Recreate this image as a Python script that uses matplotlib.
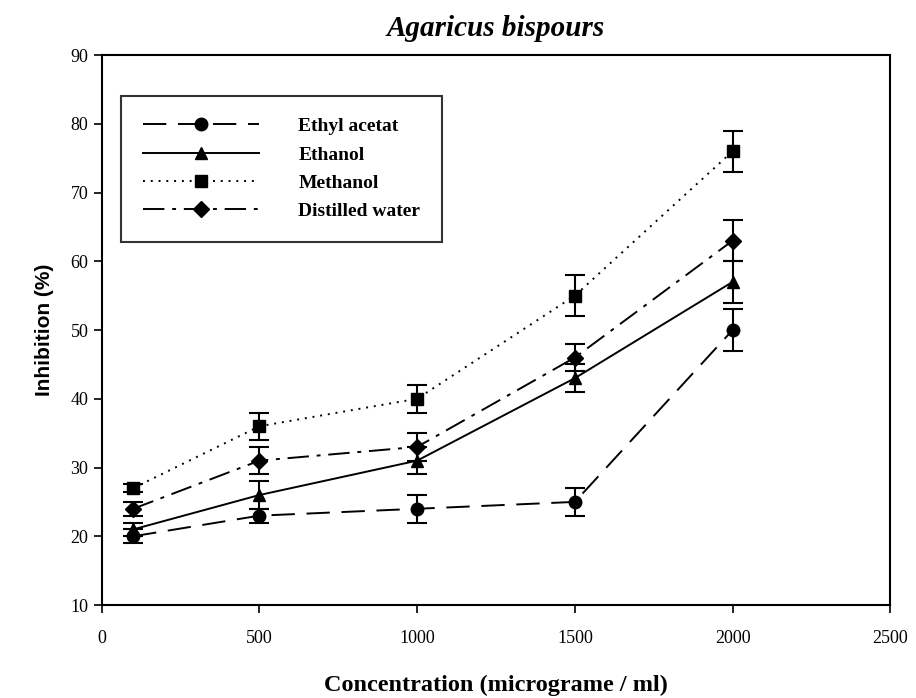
import matplotlib
matplotlib.use("Agg")
import matplotlib.pyplot as plt

conc = [100, 500, 1000, 1500, 2000]
ethyl_acetat = [20, 23, 24, 25, 50]
ethyl_acetat_err = [1, 1, 2, 2, 3]
ethanol = [21, 26, 31, 43, 57]
ethanol_err = [1, 2, 2, 2, 3]
methanol = [27, 36, 40, 55, 76]
methanol_err = [0.6, 2, 2, 3, 3]
water = [24, 31, 33, 46, 63]
water_err = [1, 2, 2, 2, 3]

xticks = [0, 500, 1000, 1500, 2000, 2500]
yticks = [10, 20, 30, 40, 50, 60, 70, 80, 90]

serif = ["Liberation Serif", "DejaVu Serif"]

fig = plt.figure(figsize=(9.16, 6.98), dpi=100)
ax = fig.add_axes([0.111, 0.1332, 0.861, 0.788])

series = [
    ("Ethyl acetat", ethyl_acetat, ethyl_acetat_err, "o", (0, (12, 6))),
    ("Ethanol", ethanol, ethanol_err, "^", "-"),
    ("Methanol", methanol, methanol_err, "s", (0, (1, 3))),
    ("Distilled water", water, water_err, "D", (0, (11, 4, 2, 4))),
]
for name, y, e, m, ls in series:
    ms = 9 if m != "D" else 8
    ax.errorbar(conc, y, yerr=e, fmt="none", ecolor="black", elinewidth=1.5,
                capsize=7, capthick=1.5, zorder=2)
    ax.plot(conc, y, color="black", linestyle=ls, linewidth=1.4, marker=m,
            markersize=ms, markerfacecolor="black", markeredgecolor="black",
            label=name, zorder=3)

ax.set_xlim(0, 2500)
ax.set_ylim(10, 90)
ax.set_xticks(xticks)
ax.set_yticks(yticks)
ax.tick_params(direction="out", length=6, width=1.2, labelsize=13)
for lab in ax.get_xticklabels() + ax.get_yticklabels():
    lab.set_fontfamily(serif)
ax.tick_params(axis="x", pad=12)
for s in ax.spines.values():
    s.set_linewidth(1.5)

ax.set_xlabel("Concentration (micrograme / ml)", fontsize=17.5, fontweight="bold",
              family=serif, labelpad=20)
ax.set_ylabel("Inhibition (%)", fontsize=15, fontweight="bold",
              family=["Liberation Sans", "DejaVu Sans"], labelpad=12)
ax.set_title("Agaricus bispours", fontsize=21, fontweight="bold", style="italic",
             family=serif, pad=14)

leg = ax.legend(loc="upper left", bbox_to_anchor=(0.025, 0.925), handlelength=6.0,
                prop={"family": serif, "weight": "bold", "size": 14},
                frameon=True, fancybox=False, edgecolor="black",
                borderpad=1.1, labelspacing=0.55, handletextpad=2.0,
                borderaxespad=0)
leg.get_frame().set_linewidth(1.5)

fig.savefig("out.png", dpi=100)
